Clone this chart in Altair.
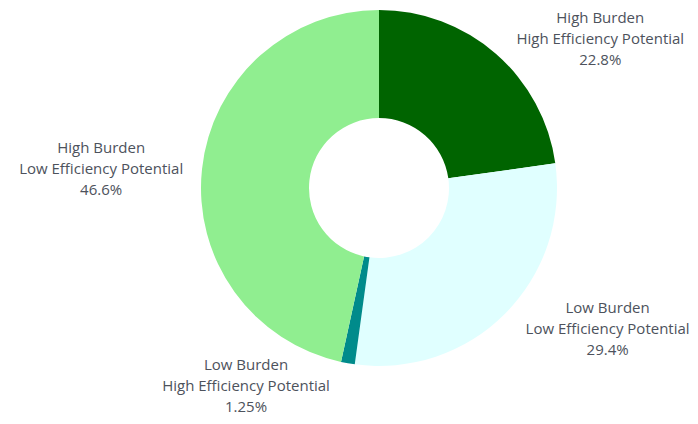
import altair as alt
import pandas as pd

order = [1, 2, 3, 4]
burden = ["High Burden", "Low Burden", "Low Burden", "High Burden"]
efficiency = ["High Efficiency Potential", "Low Efficiency Potential",
              "High Efficiency Potential", "Low Efficiency Potential"]
shares = [22.8, 29.4, 1.25, 46.6]
pct_labels = ["22.8%", "29.4%", "1.25%", "46.6%"]
colors = ["#006400", "#e0ffff", "#008b8b", "#90ee90"]

df = pd.DataFrame({
    "order": order,
    "burden": burden,
    "efficiency": efficiency,
    "share": shares,
    "pct": pct_labels,
    "key": [f"{b} / {e}" for b, e in zip(burden, efficiency)],
})
total = float(sum(shares))

CX, CY = 371, 180
theta_scale = alt.Scale(domain=[0, total], nice=False, zero=True)
color_scale = alt.Scale(domain=df["key"].tolist(), range=colors)

base = alt.Chart(df)

arcs = base.mark_arc(outerRadius=178, innerRadius=70, x=CX, y=CY).encode(
    theta=alt.Theta("share:Q", stack=True, scale=theta_scale),
    order=alt.Order("order:Q"),
    color=alt.Color("key:N", scale=color_scale, legend=None),
)

# per-label offsets (style)
offsets = {1: (90, -19), 2: (87, -21), 3: (-98, -20), 4: (-79, -19)}

layers = [arcs]
for o in order:
    dx, dy = offsets[o]
    t = (
        base.transform_window(cum="sum(share)", sort=[alt.SortField("order")], frame=[None, 0])
        .transform_calculate(
            mid="datum.cum - datum.share / 2",
            label="datum.burden + '\\n' + datum.efficiency + '\\n' + datum.pct",
        )
        .transform_filter(alt.datum.order == o)
        .mark_text(
            radius=200, x=CX, y=CY, dx=dx, dy=dy,
            align="center", baseline="middle", lineBreak="\n", lineHeight=21,
            font="Open Sans", fontSize=15, color="#4d525c",
        )
        .encode(
            theta=alt.Theta("mid:Q", stack=None, scale=theta_scale),
            text="label:N",
        )
    )
    layers.append(t)

chart = alt.layer(*layers).properties(
    width=682, height=408, padding=0,
    autosize=alt.AutoSizeParams(type="none"),
).configure_view(stroke=None)

chart.save("out.html", embed_options={"renderer": "svg", "actions": False})
